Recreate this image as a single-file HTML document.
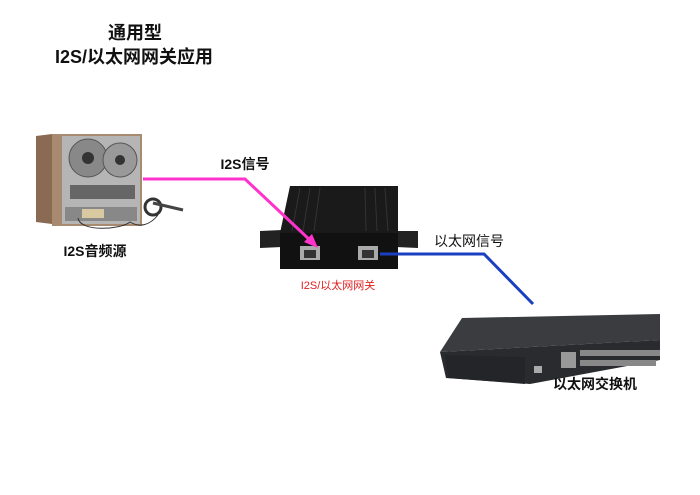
<!DOCTYPE html>
<html><head><meta charset="utf-8"><style>
body{margin:0;background:#fff}
svg{display:block}
text{font-family:"Liberation Sans","Noto Sans CJK SC",sans-serif}
</style></head><body>
<svg width="700" height="495" viewBox="0 0 700 495" xmlns="http://www.w3.org/2000/svg">
<text x="135" y="39" font-size="18" font-weight="bold" text-anchor="middle" fill="#111">通用型</text>
<text x="134" y="63" font-size="18" font-weight="bold" text-anchor="middle" fill="#111">I2S/以太网网关应用</text>

<!-- tape deck -->
<polygon points="36,136 52,134 52,224 36,222" fill="#8a6a52"/>
<rect x="52" y="134" width="90" height="92" fill="#a88a70"/>
<rect x="62" y="136" width="78" height="88" fill="#b5b5b5"/>
<circle cx="88" cy="158" r="19" fill="#888" stroke="#555"/>
<circle cx="88" cy="158" r="6" fill="#333"/>
<circle cx="120" cy="160" r="17" fill="#999" stroke="#555"/>
<circle cx="120" cy="160" r="5" fill="#333"/>
<rect x="70" y="185" width="65" height="14" fill="#666"/>
<rect x="65" y="207" width="72" height="14" fill="#888"/>
<rect x="82" y="209" width="22" height="9" fill="#d9c9a0"/>
<path d="M78,218 C80,232 120,230 130,222 C140,228 150,225 158,215" stroke="#333" fill="none"/>
<circle cx="153" cy="207" r="8" fill="none" stroke="#333" stroke-width="3"/>
<path d="M153,203 L183,210" stroke="#444" stroke-width="3"/>
<text x="95" y="256" font-size="14" font-weight="bold" text-anchor="middle" fill="#111">I2S音频源</text>

<!-- gateway -->
<polygon points="260,231 282,230 282,247 260,248" fill="#222"/>
<polygon points="396,231 418,231 418,248 396,247" fill="#222"/>
<polygon points="290,186 398,186 398,233 280,233" fill="#1a1a1a"/>
<g stroke="#333" stroke-width="1">
<line x1="300" y1="188" x2="292" y2="231"/><line x1="310" y1="188" x2="303" y2="231"/><line x1="320" y1="188" x2="314" y2="231"/>
<line x1="365" y1="188" x2="366" y2="231"/><line x1="375" y1="188" x2="377" y2="231"/><line x1="385" y1="188" x2="388" y2="231"/>
</g>
<rect x="280" y="233" width="118" height="36" fill="#111"/>
<rect x="300" y="246" width="20" height="14" fill="#aaa"/>
<rect x="304" y="250" width="12" height="8" fill="#333"/>
<rect x="358" y="246" width="20" height="14" fill="#aaa"/>
<rect x="362" y="250" width="12" height="8" fill="#333"/>
<text x="338" y="289" font-size="11" text-anchor="middle" fill="#e02020" font-family="'Liberation Serif','Noto Serif CJK SC',serif">I2S/以太网网关</text>

<!-- switch -->
<polygon points="462,318 660,314 660,340 440,352" fill="#3a3c40"/>
<polygon points="440,352 660,340 660,360 530,384 446,378" fill="#2a2b2e"/>
<polygon points="445,355 525,357 525,384 448,378" fill="#242528"/>
<rect x="561" y="352" width="15" height="16" fill="#999"/>
<g fill="#888">
<rect x="580" y="350" width="80" height="6"/><rect x="580" y="360" width="76" height="6"/>
</g>
<rect x="534" y="366" width="8" height="7" fill="#aaa"/>
<text x="595" y="389" font-size="14" font-weight="bold" text-anchor="middle" fill="#111">以太网交换机</text>

<!-- pink line -->
<polyline points="143,179 245,179 312,242" stroke="#ff33cc" stroke-width="3" fill="none"/>
<polygon points="318,248 304,242 312,234" fill="#ff33cc"/>
<text x="245" y="169" font-size="14" font-weight="bold" text-anchor="middle" fill="#111">I2S信号</text>

<!-- blue line -->
<polyline points="380,254 484,254 533,304" stroke="#1a3fc0" stroke-width="3" fill="none"/>
<text x="469" y="246" font-size="14" text-anchor="middle" fill="#111">以太网信号</text>
</svg>
</body></html>
